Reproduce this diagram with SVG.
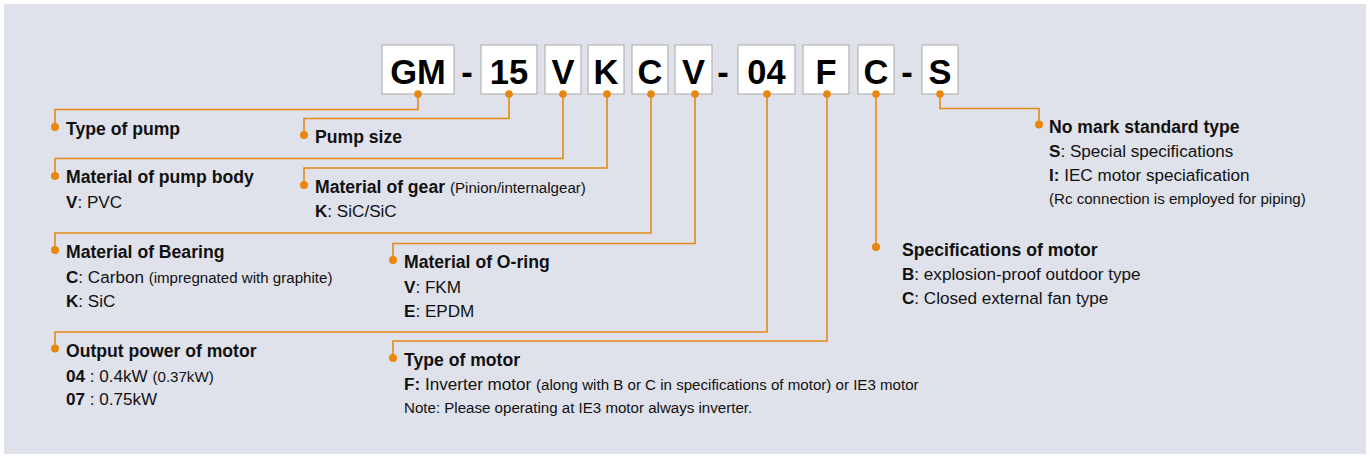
<svg xmlns="http://www.w3.org/2000/svg" width="1370" height="457" viewBox="0 0 1370 457">
<style>
text{font-family:"Liberation Sans",Arial,sans-serif;fill:#111}
.code{font-size:34.5px;font-weight:bold;text-anchor:middle;fill:#000}
.box{fill:#fff;stroke:#b4b4b4;stroke-width:1.2}
.h{font-size:17.6px;font-weight:bold}
.r{font-size:17.1px}
.s{font-size:15.1px}
.b{font-weight:bold}
.ln{fill:none;stroke:#e38a17;stroke-width:1.6}
.dot{fill:#e8870c}
</style>
<rect x="4" y="4" width="1362" height="450" fill="#dfe2eb"/>
<g id="code">
<g id="box-GM"><rect class="box" x="382" y="45" width="72" height="49"/><text class="code" x="418" y="84">GM</text></g>
<text class="code" x="467" y="84">-</text>
<g id="box-15"><rect class="box" x="481" y="45" width="56" height="49"/><text class="code" x="509" y="84">15</text></g>
<g id="box-V1"><rect class="box" x="545" y="45" width="36" height="49"/><text class="code" x="563" y="84">V</text></g>
<g id="box-K"><rect class="box" x="588" y="45" width="36" height="49"/><text class="code" x="606" y="84">K</text></g>
<g id="box-C1"><rect class="box" x="632" y="45" width="36" height="49"/><text class="code" x="650" y="84">C</text></g>
<g id="box-V2"><rect class="box" x="675" y="45" width="37" height="49"/><text class="code" x="693.5" y="84">V</text></g>
<text class="code" x="723" y="84">-</text>
<g id="box-04"><rect class="box" x="738" y="45" width="57" height="49"/><text class="code" x="766.5" y="84">04</text></g>
<g id="box-F"><rect class="box" x="803" y="45" width="46" height="49"/><text class="code" x="826" y="84">F</text></g>
<g id="box-C2"><rect class="box" x="858" y="45" width="36" height="49"/><text class="code" x="876" y="84">C</text></g>
<text class="code" x="907" y="84">-</text>
<g id="box-S"><rect class="box" x="922" y="45" width="36" height="49"/><text class="code" x="940" y="84">S</text></g>
</g>
<g id="connectors">
<path class="ln" d="M418,94V109.5H55V127"/>
<path class="ln" d="M509,94V118.5H304V135"/>
<path class="ln" d="M563,94V158.5H55V176"/>
<path class="ln" d="M607,94V168H304V185"/>
<path class="ln" d="M651,94V233H55V250"/>
<path class="ln" d="M695,94V243.5H393V260"/>
<path class="ln" d="M767,94V332H55V348.5"/>
<path class="ln" d="M827,94V341H393V358"/>
<path class="ln" d="M876,94V247"/>
<path class="ln" d="M940,94V108.5H1039V124.5"/>
<g>
<circle class="dot" cx="418" cy="94" r="3.8"/><circle class="dot" cx="509" cy="94" r="3.8"/><circle class="dot" cx="563" cy="94" r="3.8"/><circle class="dot" cx="607" cy="94" r="3.8"/><circle class="dot" cx="651" cy="94" r="3.8"/><circle class="dot" cx="695" cy="94" r="3.8"/><circle class="dot" cx="767" cy="94" r="3.8"/><circle class="dot" cx="827" cy="94" r="3.8"/><circle class="dot" cx="876" cy="94" r="3.8"/><circle class="dot" cx="940" cy="94" r="3.8"/>
<circle class="dot" cx="55" cy="127" r="4"/><circle class="dot" cx="304" cy="135" r="4"/><circle class="dot" cx="55" cy="176" r="4"/><circle class="dot" cx="304" cy="185" r="4"/><circle class="dot" cx="55" cy="250" r="4"/><circle class="dot" cx="393" cy="260" r="4"/><circle class="dot" cx="55" cy="348.5" r="4"/><circle class="dot" cx="393" cy="358" r="4"/><circle class="dot" cx="876" cy="247" r="4"/><circle class="dot" cx="1039" cy="124.5" r="4"/>
</g>
</g>
<g id="type-of-pump"><text class="h" x="66" y="135">Type of pump</text></g>
<g id="pump-size"><text class="h" x="315" y="143">Pump size</text></g>
<g id="pump-body">
<text class="h" x="66" y="183">Material of pump body</text>
<text class="r" x="66" y="208"><tspan class="b">V</tspan>: PVC</text>
</g>
<g id="gear">
<text class="h" x="315" y="193">Material of gear <tspan class="s" font-weight="normal">(Pinion/internalgear)</tspan></text>
<text class="r" x="315" y="217"><tspan class="b">K</tspan>: SiC/SiC</text>
</g>
<g id="bearing">
<text class="h" x="66" y="258">Material of Bearing</text>
<text class="r" x="66" y="283"><tspan class="b">C</tspan>: Carbon <tspan class="s">(impregnated with graphite)</tspan></text>
<text class="r" x="66" y="307"><tspan class="b">K</tspan>: SiC</text>
</g>
<g id="o-ring">
<text class="h" x="404" y="268">Material of O-ring</text>
<text class="r" x="404" y="293"><tspan class="b">V</tspan>: FKM</text>
<text class="r" x="404" y="317"><tspan class="b">E</tspan>: EPDM</text>
</g>
<g id="output-power">
<text class="h" x="66" y="357">Output power of motor</text>
<text class="r" x="66" y="381.5"><tspan class="b">04</tspan> : 0.4kW <tspan class="s">(0.37kW)</tspan></text>
<text class="r" x="66" y="405"><tspan class="b">07</tspan> : 0.75kW</text>
</g>
<g id="type-of-motor">
<text class="h" x="404" y="366">Type of motor</text>
<text class="r" x="404" y="390"><tspan class="b">F:</tspan> Inverter motor <tspan class="s">(along with B or C in specifications of motor) or IE3 motor</tspan></text>
<text class="s" x="404" y="413">Note: Please operating at IE3 motor always inverter.</text>
</g>
<g id="spec-motor">
<text class="h" x="902" y="256">Specifications of motor</text>
<text class="r" x="902" y="280"><tspan class="b">B</tspan>: explosion-proof outdoor type</text>
<text class="r" x="902" y="303.5"><tspan class="b">C</tspan>: Closed external fan type</text>
</g>
<g id="no-mark">
<text class="h" x="1049" y="133">No mark standard type</text>
<text class="r" x="1049" y="157"><tspan class="b">S</tspan>: Special specifications</text>
<text class="r" x="1049" y="181"><tspan class="b">I:</tspan> IEC motor speciafication</text>
<text class="s" x="1049" y="204">(Rc connection is employed for piping)</text>
</g>
</svg>
